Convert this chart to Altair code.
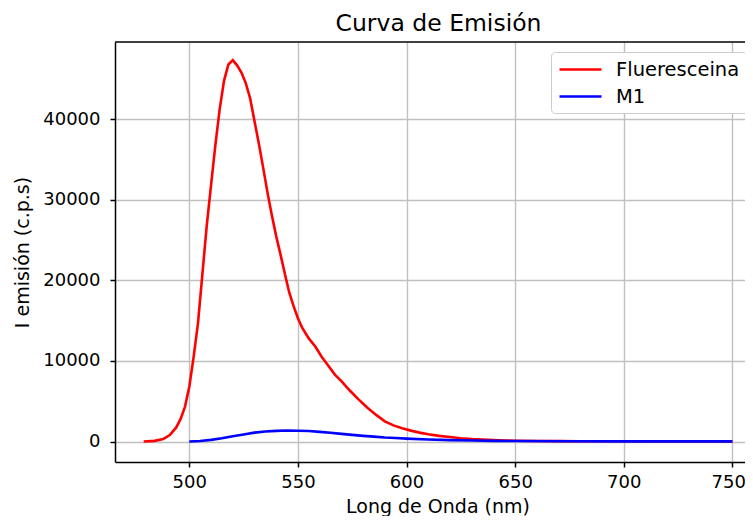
import altair as alt
import pandas as pd

SERIES = ["Fluerescein" + "a", "M1"]
TITLE = "Curva de Emisión"

flu_wl = [479, 484, 488, 491, 494, 496, 498, 500, 502, 504, 506, 508, 510, 512, 514,
          516, 518, 520, 522, 524, 526, 528, 530, 532, 534, 536, 538, 540, 542, 544,
          546, 548, 550, 552, 555, 558, 561, 564, 567, 570, 574, 578, 582, 586, 590,
          594, 598, 602, 606, 610, 615, 620, 625, 630, 635, 640, 645, 650, 660, 670,
          680, 700, 720, 750]
flu_val = [0, 80, 300, 800, 1750, 2800, 4300, 6800, 10500, 14700, 20700, 26700, 31800,
           36800, 41300, 44800, 46800, 47350, 46700, 45800, 44500, 42600, 39800, 37000,
           34000, 30900, 28100, 25500, 23200, 20800, 18500, 16800, 15300, 14100, 12800,
           11800, 10500, 9400, 8300, 7500, 6300, 5200, 4200, 3300, 2500, 2000, 1650,
           1350, 1100, 900, 700, 550, 400, 300, 230, 180, 130, 100, 70, 50, 40, 30, 20, 20]

m1_wl = [500, 505, 510, 515, 520, 525, 530, 535, 540, 545, 550, 555, 560, 565, 570,
         575, 580, 585, 590, 595, 600, 610, 620, 630, 640, 650, 675, 700, 750]
m1_val = [0, 60, 200, 400, 650, 880, 1100, 1250, 1320, 1360, 1340, 1300, 1200, 1080,
          950, 820, 700, 600, 500, 430, 360, 250, 170, 120, 80, 60, 30, 20, 10]

X_TICKS = [500, 550, 600, 650, 700, 750]
Y_TICKS = [0, 10000, 20000, 30000, 40000]

df = pd.concat([
    pd.DataFrame({"wl": flu_wl, "I": flu_val, "serie": SERIES[0]}),
    pd.DataFrame({"wl": m1_wl, "I": m1_val, "serie": SERIES[1]}),
])
df["order"] = range(len(df))

FONT = "DejaVu Sans"
W, H = 630, 420
PX_PER_NM = 2.1724
X0 = 465.8

lines = alt.Chart(df).mark_line(strokeWidth=2.6, clip=True).encode(
    x=alt.X("wl:Q", scale=alt.Scale(domain=[X0, X0 + W / PX_PER_NM], nice=False, zero=False),
            axis=alt.Axis(title="Long de Onda (nm)", values=X_TICKS, format="d",
                          grid=True, titleX=322.5, labelFlush=15,
                          labelFlushOffset=13)),
    y=alt.Y("I:Q", scale=alt.Scale(domain=[-2545, 49597], nice=False, zero=False),
            axis=alt.Axis(title="I emisión (c.p.s)", values=Y_TICKS, format="d",
                          grid=True)),
    color=alt.Color("serie:N",
                    scale=alt.Scale(domain=SERIES, range=["#ff0000", "#0000ff"]),
                    legend=alt.Legend(orient="none", legendX=436, legendY=10,
                                      title=None, symbolType="M-1,0H3.667",
                                      symbolSize=324, symbolStrokeWidth=2.6,
                                      labelFontSize=19.5, labelFont=FONT,
                                      labelColor="#000000", labelOffset=37,
                                      padding=7, rowPadding=7,
                                      strokeColor="#cccccc", fillColor="white",
                                      cornerRadius=4)),
    detail="serie:N",
    order="order:Q",
)

top = alt.Chart(pd.DataFrame({"a": [0]})).mark_rule(color="#000000", strokeWidth=1.5).encode(
    x=alt.value(0), x2=alt.value(W), y=alt.value(0)
)

title = alt.Chart(pd.DataFrame({"t": [TITLE]})).mark_text(
    font=FONT, fontSize=23.5, color="#000000", baseline="alphabetic", align="center"
).encode(text="t:N", x=alt.value(323.5), y=alt.value(-11))

chart = alt.layer(lines, top, title).properties(
    width=W, height=H,
    autosize=alt.AutoSizeParams(type="none"),
    padding={"left": 107, "top": 34, "right": 0, "bottom": 54},
).configure_view(stroke=None).configure_axis(
    labelFont=FONT, labelFontSize=18, labelColor="#000000",
    titleFont=FONT, titleFontSize=19, titleFontWeight="normal", titleColor="#000000",
    domainColor="#000000", domainWidth=1.5,
    tickColor="#000000", tickWidth=1.5, tickSize=5,
    gridColor="#c0c0c0", gridWidth=1.4,
).configure_axisX(labelPadding=6, titlePadding=6).configure_axisY(
    labelPadding=10, titlePadding=10)

chart.save("out.html", embed_options={"renderer": "svg", "actions": False})
